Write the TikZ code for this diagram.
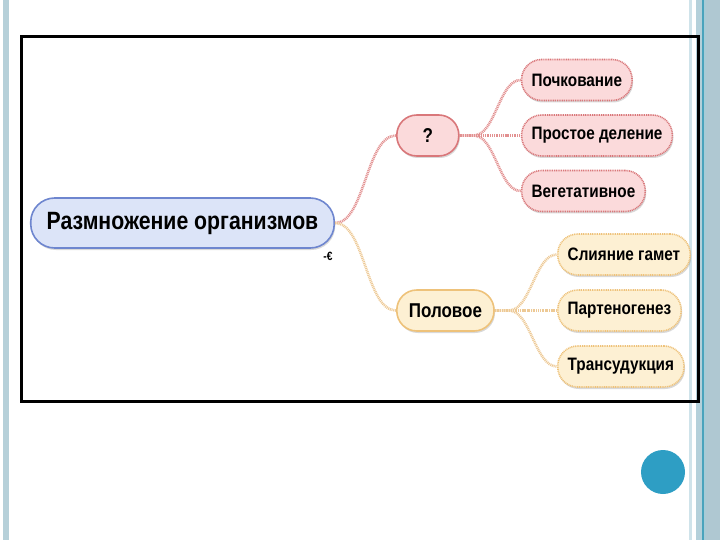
\documentclass[tikz,border=0pt]{standalone}
\usepackage{fontspec}
\newfontfamily\mapfont{Liberation Sans}[FakeStretch=0.85]
\usetikzlibrary{shadows}

\definecolor{rootfill}{HTML}{DCE4F8}
\definecolor{rootline}{HTML}{6E86CF}
\definecolor{asexfill}{HTML}{FBDADB}
\definecolor{asexline}{HTML}{D9777A}
\definecolor{asexedge}{HTML}{E29090}
\definecolor{sexfill}{HTML}{FDF0D3}
\definecolor{sexline}{HTML}{EEC27A}
\definecolor{sexedge}{HTML}{EDC995}
\definecolor{stripe}{HTML}{B6D0D9}
\definecolor{stripelight}{HTML}{CFE3EA}
\definecolor{stripedark}{HTML}{AFC8D2}
\definecolor{stripemid}{HTML}{B4D0DA}
\definecolor{stripeteal}{HTML}{4AA3BC}
\definecolor{stripepale}{HTML}{A8CBD6}
\definecolor{dotblue}{HTML}{2E9EC4}

\begin{document}
\begin{tikzpicture}[x=1pt, y=-1pt]
    \tikzstyle{bubble} = [rectangle, rounded corners=20pt, line width=1.6pt, minimum height=41pt,
        inner xsep=12pt, text=black, anchor=west,
        drop shadow={shadow xshift=1pt, shadow yshift=-2pt, opacity=0.3}]
    \tikzstyle{rootnode} = [bubble, rounded corners=24pt, minimum height=50pt, inner xsep=16pt,
        anchor=center, draw=rootline, fill=rootfill, font=\mapfont\bfseries\fontsize{25}{27}\selectfont]
    \tikzstyle{asexnode} = [bubble, draw=asexline, fill=asexfill, font=\mapfont\bfseries\fontsize{20}{22}\selectfont]
    \tikzstyle{sexnode} = [bubble, draw=sexline, fill=sexfill, font=\mapfont\bfseries\fontsize{20}{22}\selectfont]
    \tikzstyle{asexleaf} = [asexnode, inner xsep=10pt, font=\mapfont\bfseries\fontsize{18}{20}\selectfont]
    \tikzstyle{sexleaf} = [sexnode, inner xsep=10pt, font=\mapfont\bfseries\fontsize{18}{20}\selectfont]
    \tikzstyle{twig} = [edge from parent path={(\tikzparentnode.east) -- ++(14pt,0)
        .. controls +(22pt,0) and +(-22pt,0) .. (\tikzchildnode.west)}]
    \tikzstyle{level 1} = [level distance=213.5pt, sibling distance=175pt,
        edge from parent path={(\tikzparentnode.east)
        .. controls +(30pt,0) and +(-30pt,0) .. (\tikzchildnode.west)}]
    \tikzstyle{asexual} = [edge from parent/.style={draw=asexedge, line width=2.6pt, dash pattern=on 1pt off 0.8pt},
        level 2/.style={level distance=93pt, sibling distance=55.5pt, twig}]
    \tikzstyle{sexual} = [edge from parent/.style={draw=sexedge, line width=2.6pt, dash pattern=on 1pt off 0.8pt},
        level 2/.style={level distance=111.5pt, sibling distance=56pt, twig}]

    \useasboundingbox (0,0) rectangle (720,540);

    % slide border
    \fill[stripe] (3,0) rectangle (9,540);
    \fill[stripelight] (689,0) rectangle (691.5,540);
    \fill[stripedark] (696,0) rectangle (720,540);
    \fill[stripemid] (696,0) rectangle (702,540);
    \fill[stripeteal] (702,0) rectangle (703.5,540);
    \fill[stripepale] (703.5,0) rectangle (706,540);
    \fill[dotblue] (663,472) circle (22pt);
    \draw[line width=3pt] (21,37) rectangle (698,401);

    \node [rootnode] (root) at (182.5,223) {Размножение организмов}
    [grow'=right]
    child[asexual] {
            node [asexnode, minimum width=62pt] (asex) {?}
            child {
                    node [asexleaf] (budding) {Почкование}
                }
            child {
                    node [asexleaf] (fission) {Простое деление}
                }
            child {
                    node [asexleaf] (vegetative) {Вегетативное}
                }
        }
    child[sexual] {
            node [sexnode] (sex) {Половое}
            child {
                    node [sexleaf] (gametes) {Слияние гамет}
                }
            child {
                    node [sexleaf] (partheno) {Партеногенез}
                }
            child {
                    node [sexleaf] (transd) {Трансудукция}
                }
        };

    \node [font=\mapfont\bfseries\fontsize{12}{12}\selectfont, inner sep=0pt] (collapse) at (328,256) {-€};
\end{tikzpicture}
\end{document}
